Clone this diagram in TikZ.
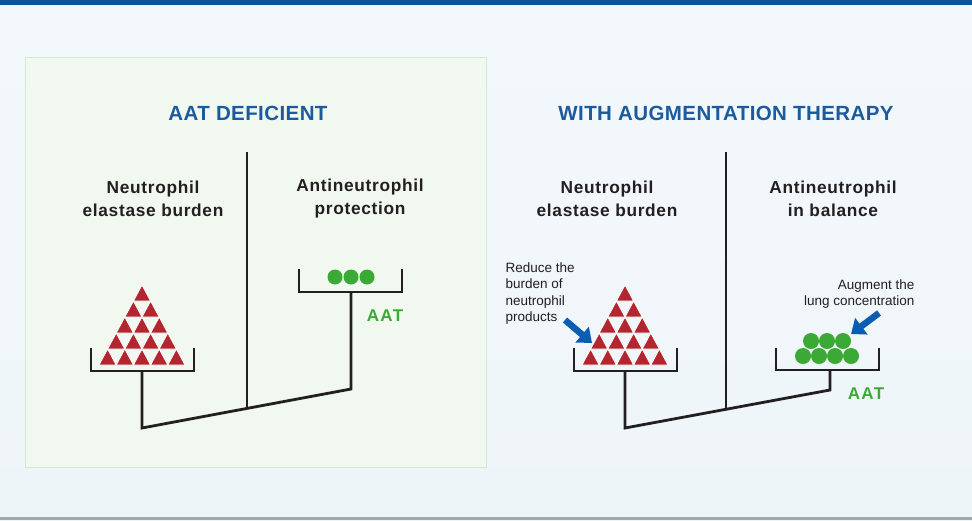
\documentclass[tikz,border=0pt]{standalone}
\usepackage{fontspec}
\setmainfont{Liberation Sans}
\usetikzlibrary{arrows.meta,positioning}
\definecolor{barblue}{HTML}{0D5499}
\definecolor{titleblue}{HTML}{1A5A9D}
\definecolor{stackred}{HTML}{B3262F}
\definecolor{aatgreen}{HTML}{3AAA35}
\definecolor{pushblue}{HTML}{0B5DB2}
\definecolor{inkgray}{HTML}{231F20}
\definecolor{panelfill}{HTML}{F1F8F0}
\definecolor{paneldraw}{HTML}{D3E9D0}
\definecolor{bgtop}{HTML}{F3F8FD}
\definecolor{bgbot}{HTML}{EEF5F8}

\begin{document}
\begin{tikzpicture}[x=1pt,y=-1pt,
   title/.style={font=\fontsize{20.5}{24}\selectfont\bfseries\addfontfeatures{LetterSpace=2},text=titleblue},
   head/.style={font=\fontsize{17.3}{23}\selectfont\bfseries\addfontfeatures{LetterSpace=4},text=inkgray,align=center},
   note/.style={font=\fontsize{13.5}{16.5}\selectfont,text=inkgray},
   aat/.style={font=\fontsize{17}{20}\selectfont\bfseries\addfontfeatures{LetterSpace=8},text=aatgreen},
   beam/.style={draw=inkgray,line width=2.8pt},
   dot/.style={circle,fill=aatgreen,minimum size=15pt,inner sep=0pt},
   push/.style={-{Triangle[length=13pt,width=20pt]},line width=6.5pt,draw=pushblue}]
  \useasboundingbox (0,0) rectangle (972,520);
  \shade[top color=bgtop,bottom color=bgbot] (0,0) rectangle (972,520);
  \fill[barblue] (0,0) rectangle (972,5);
  \fill[gray!70] (0,517) rectangle (972,520);
  \draw[paneldraw,fill=panelfill,line width=1pt] (25,57) rectangle (486,467);

  % titles and headings
  \node[title] (ltitle) at (248,113) {AAT DEFICIENT};
  \node[title] (rtitle) at (726,113) {WITH AUGMENTATION THERAPY};
  \node[head] (lburden) at (153,199) {Neutrophil\\elastase burden};
  \node[head] (lprot) at (360,199) {Antineutrophil\\protection};
  \node[head] (rburden) at (607,199) {Neutrophil\\elastase burden};
  \node[head] (rbal) at (833,199) {Antineutrophil\\in balance};

  % left balance
  \coordinate (lpost) at (247,152);
  \coordinate (lpivot) at (247,409);
  \coordinate (lleft) at (142,428);
  \coordinate (lright) at (351,389);
  \draw[beam] (lpost) -- (lpivot);
  \draw[beam] (142,371) -- (lleft) -- (lright) -- (351,292);
  \draw[beam] (91,348) -- (91,371) -- (194,371) -- (194,348);
  \draw[beam] (299,269) -- (299,292) -- (402,292) -- (402,269);
  \foreach \x in {335,351,367} \node[dot] at (\x,277) {};
  \node[aat] (laat) at (385,316) {AAT};

  % right balance
  \coordinate (rpost) at (726,152);
  \coordinate (rpivot) at (726,409);
  \coordinate (rleft) at (625,428);
  \coordinate (rright) at (830,390);
  \draw[beam] (rpost) -- (rpivot);
  \draw[beam] (625,371) -- (rleft) -- (rright) -- (830,370);
  \draw[beam] (574,348) -- (574,371) -- (677,371) -- (677,348);
  \draw[beam] (776,348) -- (776,370) -- (879,370) -- (879,348);
  \foreach \x in {803,819,835,851} \node[dot,minimum size=16pt] at (\x,356) {};
  \foreach \x in {811,827,843} \node[dot,minimum size=16pt] at (\x,341) {};
  \node[aat] (raat) at (866,394) {AAT};

  % triangle stacks
  \foreach \ax in {142,625}
    \foreach \r in {0,...,4}
      \foreach \k in {0,...,\r}
        \fill[stackred,draw=white,line width=0.8pt]
          ({\ax-\r*8.6+\k*17.2},{285+\r*16}) -- ++(-8.6,16) -- ++(17.2,0) -- cycle;

  % notes
  \node[note,align=left,anchor=north west] (reduce) at (502,259) {Reduce the\\burden of\\neutrophil\\products};
  \node[note,align=right,anchor=north east] (augment) at (918,276) {Augment the\\lung concentration};
  \coordinate (rtail) at (565,320);
  \coordinate (rtip) at (592,343);
  \coordinate (atail) at (879,313);
  \coordinate (atip) at (851,334);
  \draw[push] (rtail) -- (rtip);
  \draw[push] (atail) -- (atip);
\end{tikzpicture}
\end{document}
